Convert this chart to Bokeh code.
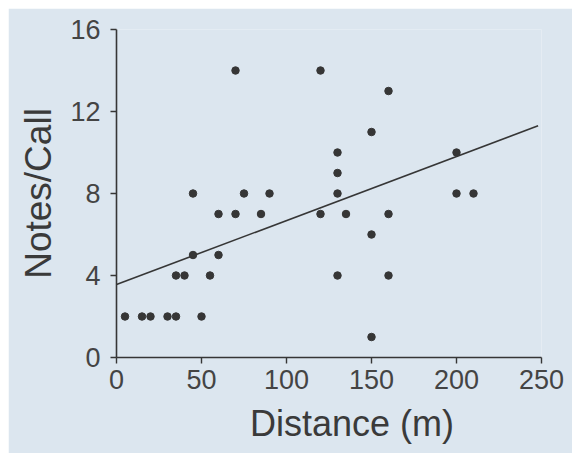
from bokeh.plotting import figure
from bokeh.models import Range1d, FixedTicker, Title
from bokeh.embed import file_html
from bokeh.resources import INLINE

# Data
distance = [5, 15, 20, 30, 35, 50,
            35, 40, 55,
            45, 60,
            60, 70, 85,
            45, 75, 90,
            70,
            120, 160, 150,
            130, 130, 130, 130,
            120, 135, 160,
            150, 150, 160,
            200, 200, 210]
notes = [2, 2, 2, 2, 2, 2,
         4, 4, 4,
         5, 5,
         7, 7, 7,
         8, 8, 8,
         14,
         14, 13, 11,
         10, 9, 8, 4,
         7, 7, 7,
         6, 1, 4,
         10, 8, 8]

fit_x = [0, 248]
fit_y = [3.56, 11.3]

x_ticks = [0, 50, 100, 150, 200, 250]
y_ticks = [0, 4, 8, 12, 16]

x_title = "Distance (m)"
y_title = "Notes/Call"

BG = "#dce6ef"
INK = "#363636"
FONT = "Liberation Sans"

p = figure(frame_width=425, frame_height=328,
           x_range=Range1d(0, 250), y_range=Range1d(0, 16),
           output_backend="svg", toolbar_location=None,
           min_border_left=108, min_border_right=31,
           min_border_top=21, min_border_bottom=95,
           margin=(8, 0, 0, 8))

p.background_fill_color = BG
p.border_fill_color = BG
p.outline_line_color = None
p.grid.visible = False

p.line(fit_x, fit_y, line_color=INK, line_width=1.6)
p.scatter(distance, notes, size=7.5, fill_color=INK, line_color=INK)

p.xaxis.ticker = FixedTicker(ticks=x_ticks)
p.yaxis.ticker = FixedTicker(ticks=y_ticks)

for ax in (p.xaxis[0], p.yaxis[0]):
    ax.axis_line_color = INK
    ax.axis_line_width = 1.6
    ax.major_tick_line_color = INK
    ax.major_tick_line_width = 1.4
    ax.major_tick_out = 6
    ax.major_tick_in = 0
    ax.minor_tick_out = 0
    ax.minor_tick_in = 0
    ax.major_label_text_font = FONT
    ax.major_label_text_font_size = "27px"
    ax.major_label_text_color = "#444444"
    ax.axis_label_text_font = FONT
    ax.axis_label_text_font_style = "normal"
    ax.axis_label_text_color = "#3a3a3a"

p.yaxis.axis_label = y_title
p.yaxis.axis_label_text_font_size = "37px"
p.xaxis.major_label_standoff = 6
p.yaxis.major_label_standoff = 10
p.yaxis.axis_label_standoff = 8

# x-axis title sits right of centre in the reference: asymmetric padding shifts it
p.add_layout(Title(text=x_title, align="center", standoff=19,
                   padding=dict(left=46, right=0, top=0, bottom=0),
                   text_font=FONT, text_font_size="36px",
                   text_font_style="normal", text_color="#3a3a3a"), "below")

open("out.html", "w").write(file_html(p, INLINE))
